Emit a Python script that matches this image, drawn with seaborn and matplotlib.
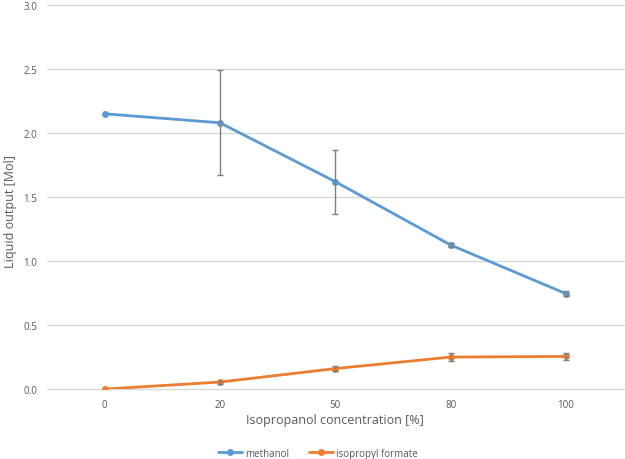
import numpy as np
import pandas as pd
import seaborn as sns
from matplotlib import pyplot as plt

sns.set_style('white')
plt.rcParams['font.family'] = ['Open Sans', 'DejaVu Sans']

concentrations = ['0', '20', '50', '80', '100']
methanol = [2.15, 2.08, 1.62, 1.125, 0.745]
methanol_err = [0.0, 0.41, 0.25, 0.015, 0.02]
formate = [0.0, 0.055, 0.16, 0.25, 0.255]
formate_err = [0.0, 0.012, 0.02, 0.028, 0.03]
series_names = ['methanol', 'isopropyl formate']
colors = ['#5B9BD5', '#ED7D31']

pos = np.arange(len(concentrations))
df = pd.DataFrame({
    'pos': np.concatenate([pos, pos]),
    'value': methanol + formate,
    'series': [series_names[0]] * len(pos) + [series_names[1]] * len(pos),
})

fig = plt.figure(figsize=(6.25, 4.6), dpi=100)
ax = fig.add_axes([0.075, 0.152, 0.923, 0.835])

sns.lineplot(data=df, x='pos', y='value', hue='series', palette=colors,
             marker='o', markersize=5, markeredgewidth=0, linewidth=2,
             ax=ax, legend=True)

# error bars only where there is a spread
for vals, errs in [(methanol, methanol_err), (formate, formate_err)]:
    idx = [i for i, e in enumerate(errs) if e > 0]
    ax.errorbar(pos[idx], np.array(vals)[idx], yerr=np.array(errs)[idx],
                fmt='none', ecolor='#7f7f7f', elinewidth=1, capsize=2.5,
                capthick=1, zorder=5)

ax.set_xlim(-0.5, len(pos) - 0.5)
ax.set_ylim(0, 3.0)
ticks = np.arange(0, 3.01, 0.5)
ax.set_yticks(ticks)
ax.set_yticklabels([f'{v:.1f}' for v in ticks])
ax.set_xticks(pos)
ax.set_xticklabels(concentrations)
ax.yaxis.grid(True, color='#d9d9d9', linewidth=1)
for gl in ax.get_ygridlines():
    gl.set_clip_on(False)
ax.set_axisbelow(True)
for s in ax.spines.values():
    s.set_visible(False)
ax.tick_params(axis='both', length=0, labelsize=7, labelcolor='#595959', pad=7)

ax.set_xlabel('Isopropanol concentration [%]', fontsize=9, color='#595959', labelpad=2)
ax.set_ylabel('Liquid output [Mol]', fontsize=9, color='#595959')
ax.yaxis.set_label_coords(-0.052, 0.465)

ax.legend(loc='upper center', bbox_to_anchor=(0.47, -0.13), ncol=2, frameon=False,
          fontsize=7, labelcolor='#595959', handlelength=2.5, columnspacing=2,
          handletextpad=0.3)

plt.savefig('out.png', dpi=100)
